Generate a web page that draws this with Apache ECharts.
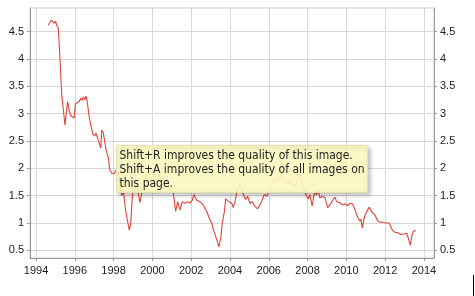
<!DOCTYPE html>
<html><head><meta charset="utf-8">
<script src="https://cdn.jsdelivr.net/npm/echarts@6/dist/echarts.min.js"></script>
<style>html,body{margin:0;padding:0;background:#fff;overflow:hidden}#c{width:475px;height:296px}</style>
</head><body><div id="c"></div>
<script>
const years = [1994.63,1994.68,1994.72,1994.80,1994.88,1994.94,1995.01,1995.06,1995.15,1995.24,1995.32,1995.41,1995.49,1995.58,1995.63,1995.72,1995.79,1995.89,1995.97,1996.03,1996.13,1996.23,1996.30,1996.37,1996.44,1996.51,1996.58,1996.64,1996.75,1996.82,1996.92,1997.01,1997.09,1997.18,1997.26,1997.34,1997.39,1997.47,1997.61,1997.73,1997.81,1997.90,1998.02,1998.12,1998.23,1998.33,1998.42,1998.51,1998.61,1998.71,1998.81,1998.88,1998.98,1999.05,1999.15,1999.27,1999.36,1999.45,1999.52,1999.62,1999.72,1999.82,1999.93,2000.03,2000.13,2000.24,2000.34,2000.44,2000.55,2000.65,2000.75,2000.86,2000.96,2001.08,2001.20,2001.30,2001.42,2001.54,2001.68,2001.82,2001.94,2002.06,2002.14,2002.28,2002.45,2002.62,2002.80,2002.97,2003.06,2003.14,2003.26,2003.37,2003.43,2003.54,2003.60,2003.71,2003.78,2003.91,2004.09,2004.17,2004.26,2004.38,2004.52,2004.69,2004.81,2004.91,2005.03,2005.15,2005.29,2005.43,2005.51,2005.63,2005.77,2005.89,2005.97,2006.06,2006.16,2006.27,2006.37,2006.47,2006.58,2006.68,2006.78,2006.89,2006.99,2007.09,2007.20,2007.30,2007.40,2007.51,2007.61,2007.71,2007.78,2007.87,2007.95,2008.04,2008.12,2008.24,2008.35,2008.47,2008.55,2008.64,2008.76,2008.90,2009.04,2009.15,2009.32,2009.41,2009.50,2009.67,2009.79,2009.93,2010.07,2010.19,2010.31,2010.44,2010.53,2010.61,2010.70,2010.75,2010.82,2010.92,2011.05,2011.18,2011.27,2011.36,2011.47,2011.61,2011.73,2011.90,2012.08,2012.20,2012.28,2012.39,2012.51,2012.68,2012.80,2012.93,2013.02,2013.11,2013.19,2013.30,2013.38,2013.46,2013.54,2013.59];
const values = [4.62,4.65,4.59,4.71,4.72,4.65,4.69,4.62,4.56,3.98,3.37,3.07,2.79,2.76,3.22,3.04,2.96,2.95,2.92,3.18,3.20,3.22,3.28,3.24,3.31,3.25,3.32,3.22,2.92,2.80,2.64,2.59,2.64,2.55,2.46,2.37,2.70,2.65,2.34,2.19,1.97,1.91,1.90,1.96,1.92,1.75,1.50,1.58,1.25,1.05,0.87,0.98,1.55,1.80,1.70,1.55,1.37,1.55,1.75,1.85,1.70,1.80,1.95,1.85,1.70,1.80,1.90,1.75,1.85,1.70,1.75,1.65,1.60,1.55,1.21,1.39,1.24,1.39,1.36,1.39,1.36,1.42,1.52,1.42,1.39,1.33,1.21,1.06,1.00,0.88,0.76,0.64,0.56,0.76,1.00,1.20,1.44,1.40,1.36,1.28,1.39,1.61,1.70,1.52,1.43,1.49,1.36,1.39,1.30,1.26,1.27,1.39,1.52,1.49,1.55,1.62,1.70,1.80,1.75,1.85,1.78,1.90,1.80,1.72,1.78,1.70,1.75,1.65,1.72,1.80,1.88,1.75,1.64,1.56,1.49,1.44,1.52,1.31,1.55,1.52,1.60,1.46,1.49,1.46,1.28,1.33,1.43,1.47,1.39,1.37,1.33,1.35,1.32,1.36,1.35,1.25,1.15,1.09,1.03,1.07,0.91,1.09,1.21,1.29,1.28,1.18,1.15,1.04,1.02,1.01,1.00,1.00,0.97,0.86,0.83,0.82,0.79,0.80,0.77,0.81,0.73,0.59,0.76,0.85,0.88,0.86];
const xTicks = [1994,1996,1998,2000,2002,2004,2006,2008,2010,2012,2014];
const yTicks = [0.5,1,1.5,2,2.5,3,3.5,4,4.5];
const noteLines = ['Shift+R improves the quality of this image.','Shift+A improves the quality of all images on','this page.'];

const chart = echarts.init(document.getElementById('c'), null, {renderer:'canvas'});
const data = years.map((y,i)=>[y, values[i]]);
const font = 'Liberation Sans, Arial, sans-serif';
const yMin = 0.36, yMax = 4.93;
function yAx(pos, showSplit){
  return {
    type:'value', position:pos, min:yMin, max:yMax,
    axisLine:{show:true, lineStyle:{color:'#999', width:1}},
    axisTick:{show:true, length:3, customValues:yTicks, lineStyle:{color:'#999'}},
    axisLabel:{customValues:yTicks, color:'#222', fontSize:11, fontFamily:font, margin:6,
      formatter:v=>String(v)},
    splitLine:{show:showSplit, lineStyle:{color:'#d6d6d6', width:1}}
  };
}
chart.setOption({
  animation:false,
  backgroundColor:'#fff',
  grid:{left:30, right:41, top:8, bottom:38, show:true, borderColor:'#cfcfcf', borderWidth:1, containLabel:false, outerBoundsMode:'none'},
  xAxis:{type:'value', min:1993.69, max:2014.52,
    axisLine:{show:true, onZero:false, lineStyle:{color:'#999', width:1}},
    axisTick:{show:true, length:3, customValues:xTicks, lineStyle:{color:'#999'}},
    axisLabel:{customValues:xTicks, color:'#222', fontSize:11, fontFamily:font, margin:7, formatter:v=>String(v)},
    splitLine:{show:true, lineStyle:{color:'#d6d6d6', width:1}}
  },
  yAxis:[yAx('left', true), yAx('right', false)],
  series:[{type:'line', data:data, showSymbol:false, symbol:'none', z:2,
    lineStyle:{color:'#e0443a', width:1.1}, silent:true}],
  graphic:[
    {type:'group', left:116, top:145, z:100, zlevel:0, children:[
      {type:'rect', z:100, shape:{x:0,y:0,width:251,height:47},
       style:{fill:'rgba(255,253,196,0.9)', stroke:'#e6e2ac', lineWidth:1,
              shadowBlur:4, shadowOffsetX:2, shadowOffsetY:2, shadowColor:'rgba(0,0,0,0.25)'}},
      {type:'text', z:101, x:3, y:3, style:{text:noteLines.join('\n'), fill:'#222',
       font:'12px "DejaVu Sans Condensed", "DejaVu Sans", sans-serif', lineHeight:14}}
    ]},
    {type:'rect', left:473, top:275, z:100, shape:{width:1,height:21}, style:{fill:'#000'}}
  ]
});
</script></body></html>
